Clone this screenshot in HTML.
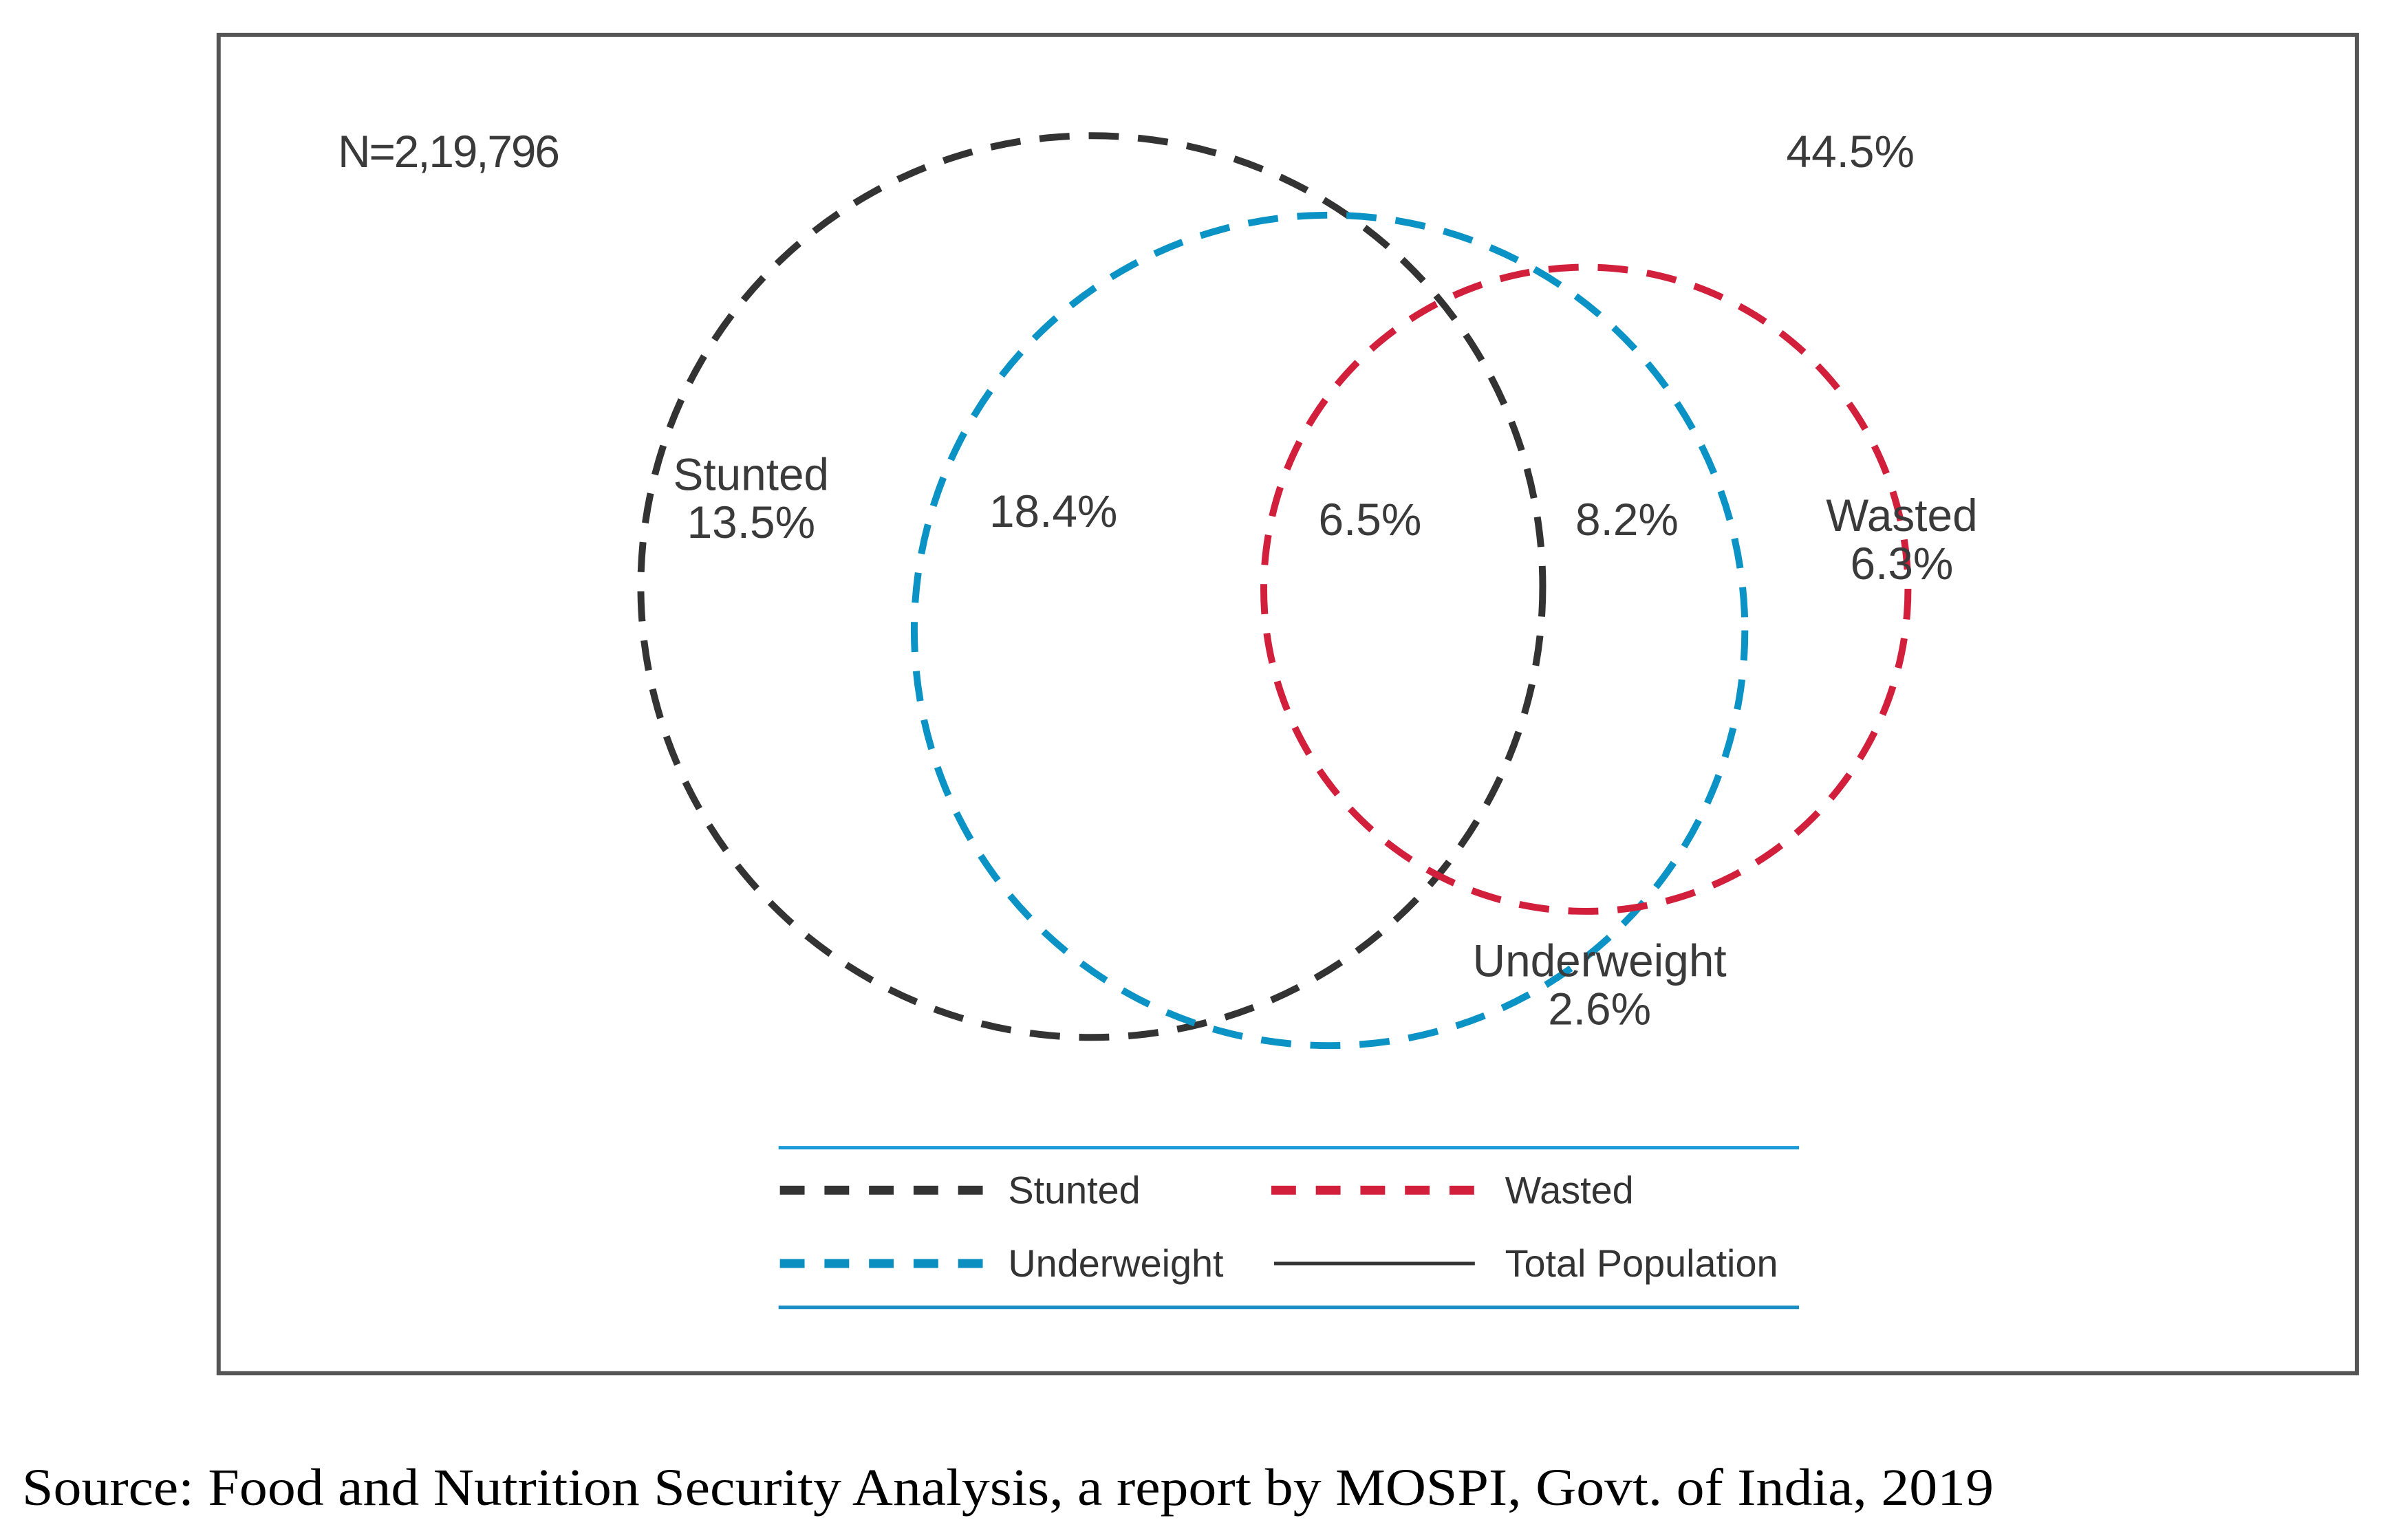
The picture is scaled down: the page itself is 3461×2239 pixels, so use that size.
<!DOCTYPE html>
<html><head><meta charset="utf-8"><style>
html,body{margin:0;padding:0;background:#fff;width:3461px;height:2239px;overflow:hidden}
svg{display:block}
.lbl{font-family:"Liberation Sans",sans-serif;font-size:66px;fill:#3a3a3a;text-anchor:middle}
.leg{font-family:"Liberation Sans",sans-serif;font-size:56px;fill:#333}
</style></head><body>
<svg id="chart" width="3461" height="2239" viewBox="0 0 3461 2239" xmlns="http://www.w3.org/2000/svg">
<g transform="scale(0.9962)">
<rect x="319" y="51" width="3120" height="1953" fill="#fff" stroke="#555" stroke-width="6"/>
<g id="circles"></g>
<text class="lbl" x="493" y="244" style="text-anchor:start" textLength="324">N=2,19,796</text>
<text class="lbl" x="2700" y="244">44.5%</text>
<g id="labels"></g>
<line x1="1136" y1="1675" x2="2625" y2="1675" stroke="#1a9ad6" stroke-width="5"/>
<line x1="1136" y1="1908" x2="2625" y2="1908" stroke="#1a8cc4" stroke-width="5"/>
<g>
<line x1="1138" y1="1737" x2="1435" y2="1737" stroke="#333" stroke-width="13" stroke-dasharray="36 29"/>
<text class="leg" x="1471" y="1756">Stunted</text></g>
<g>
<line x1="1855" y1="1737" x2="2157" y2="1737" stroke="#d21f3c" stroke-width="13" stroke-dasharray="36 29"/>
<text class="leg" x="2196" y="1756">Wasted</text></g>
<g>
<line x1="1138" y1="1844" x2="1435" y2="1844" stroke="#0a8fc0" stroke-width="13" stroke-dasharray="36 29"/>
<text class="leg" x="1471" y="1863">Underweight</text></g>
<g>
<line x1="1859" y1="1844" x2="2152" y2="1844" stroke="#333" stroke-width="5"/>
<text class="leg" x="2196" y="1863">Total Population</text></g>
</g>
<text x="32" y="2188" font-family="'Liberation Serif',serif" font-size="76" fill="#000" textLength="2866" lengthAdjust="spacingAndGlyphs">Source: Food and Nutrition Security Analysis, a report by MOSPI, Govt. of India, 2019</text>
</svg>
<script>
const setNames = ["stunted","underweight","wasted"];
const setCx = [1593, 1940, 2314];
const setCy = [856, 920, 860];
const setR = [658, 606, 470];
const setColors = ["#333333","#0a93c4","#d21f3c"];
const regionNames = ["stunted-only","stunted-underweight","all-three","underweight-wasted","wasted-only","underweight-only"];
const regionValues = ["13.5%","18.4%","6.5%","8.2%","6.3%","2.6%"];
const regionTitles = ["Stunted","","","","Wasted","Underweight"];
const regionX = [1096, 1537, 1999, 2374, 2775, 2334];
const regionY = [785, 769, 781, 781, 845, 1495];
const NS="http://www.w3.org/2000/svg";
const cg=document.getElementById('circles');
for(let i=0;i<setNames.length;i++){
  const c=document.createElementNS(NS,'circle');
  
  
  c.setAttribute('cx',setCx[i]);c.setAttribute('cy',setCy[i]);c.setAttribute('r',setR[i]);
  c.setAttribute('fill','none');c.setAttribute('stroke',setColors[i]);
  c.setAttribute('stroke-width','10');c.setAttribute('stroke-dasharray','44 28');
  cg.appendChild(c);
}
const lg=document.getElementById('labels');
for(let i=0;i<regionNames.length;i++){
  const t=document.createElementNS(NS,'text');
  
  
  t.setAttribute('class','lbl');t.setAttribute('x',regionX[i]);t.setAttribute('y',regionY[i]);
  t.textContent=regionValues[i];lg.appendChild(t);
  if(regionTitles[i]){
    const h=document.createElementNS(NS,'text');
    
    
    h.setAttribute('class','lbl');h.setAttribute('x',regionX[i]);h.setAttribute('y',regionY[i]-70);
    h.textContent=regionTitles[i];lg.appendChild(h);
  }
}
</script>
</body></html>
